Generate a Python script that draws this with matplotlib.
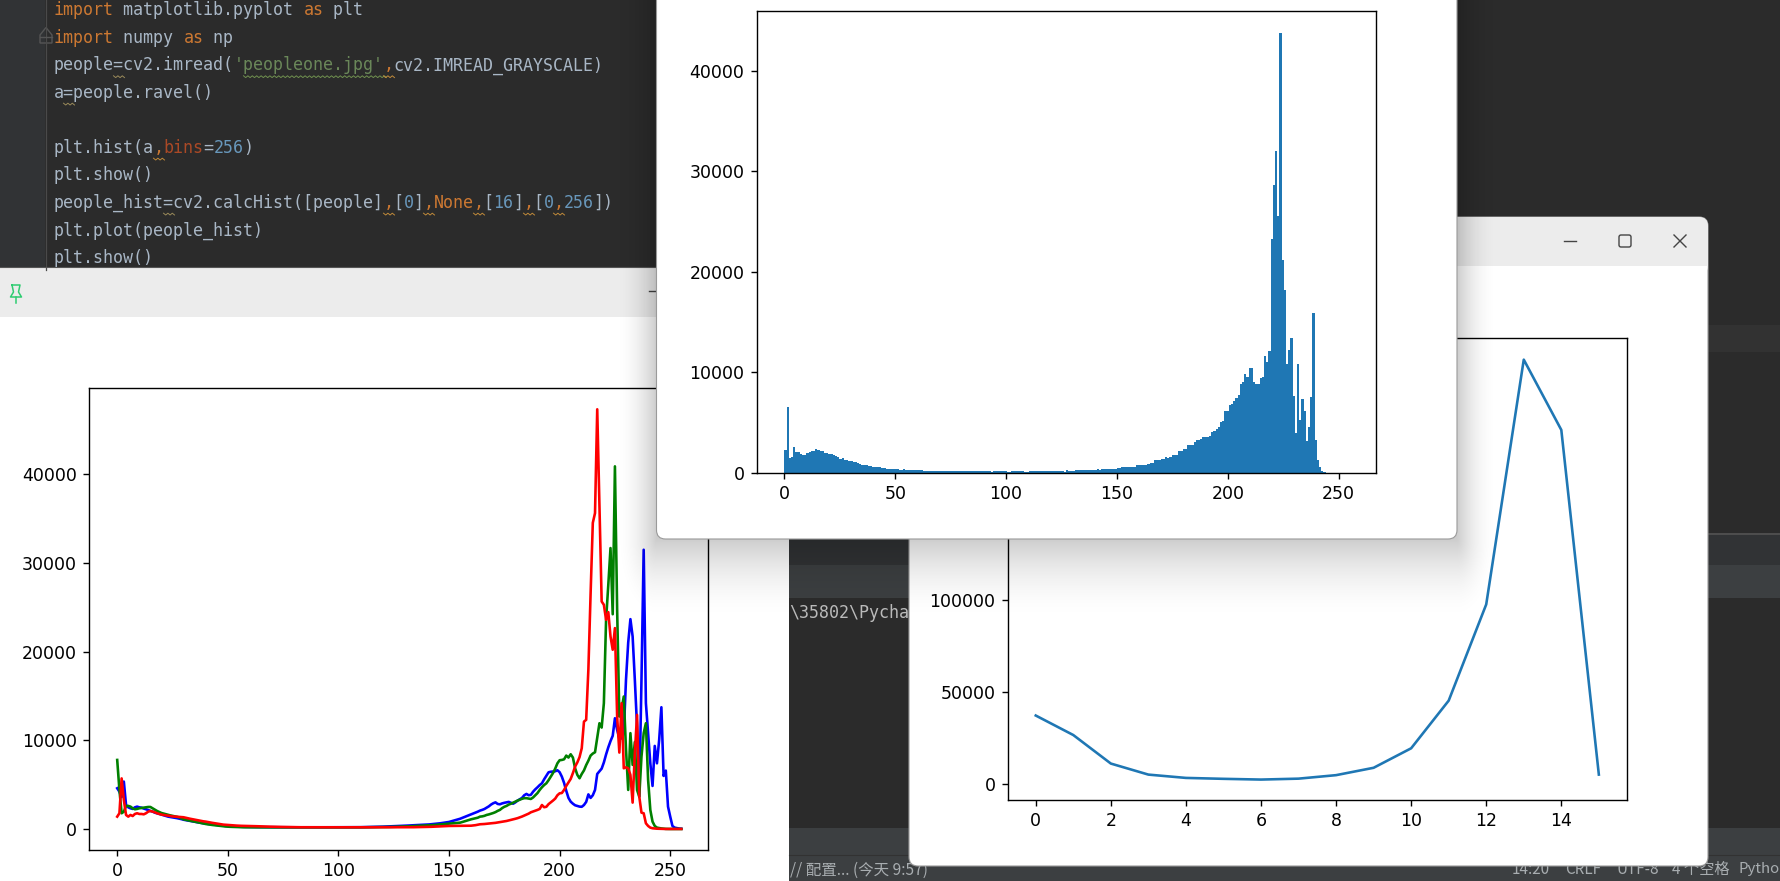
import numpy as np
import matplotlib
matplotlib.use("Agg")
import matplotlib.pyplot as plt
from matplotlib.patches import Rectangle, FancyBboxPatch, Polygon

W, H = 1781, 881

# ---------- chart data ----------
blue_counts = [
 4590,4200,3600,5340,2700,2440,2330,2260,2440,2520,
 2440,2400,2300,2220,2140,2030,1960,1840,1770,1690,
 1620,1540,1470,1390,1350,1320,1270,1220,1170,1110,
 1040,1000,950,900,860,820,770,720,680,640,
 600,570,540,510,480,450,420,390,360,340,
 320,300,285,270,260,250,240,235,230,225,
 220,218,215,212,210,208,205,203,200,198,
 196,195,194,193,192,191,190,190,190,190,
 190,188,190,190,188,190,190,190,188,190,
 190,190,188,190,190,190,188,190,190,190,
 190,190,188,190,192,192,195,195,197,198,
 200,205,210,215,220,225,230,235,240,250,
 260,270,280,290,300,310,320,335,350,360,
 370,380,395,410,420,430,445,460,470,480,
 490,510,535,560,580,600,640,680,720,760,
 790,860,930,1000,1080,1150,1250,1350,1450,1550,
 1650,1750,1850,1950,2070,2150,2250,2400,2550,2750,
 2900,3000,2820,2780,2880,2950,3000,3050,2950,2850,
 3000,3200,3350,3500,3800,3950,3800,3850,4200,4470,
 4700,4950,5150,5600,6000,6390,6450,6470,6500,6620,
 6400,5900,5200,4300,3500,3080,2850,2670,2600,2520,
 2500,2700,3050,3900,3500,3800,4400,6200,6500,6800,
 7500,8400,9200,9900,10500,12480,11170,10230,10200,10800,
 16800,21000,23650,21700,16800,11540,3650,16800,31470,14180,
 10800,7400,4850,9360,7400,10040,13720,5980,6580,2520,
 1390,340,150,100,50,30]

green_counts = [
 7780,4400,1770,1950,2600,2600,2520,2330,2220,2260,
 2330,2370,2400,2440,2480,2480,2330,2180,2030,1920,
 1800,1730,1650,1590,1530,1480,1430,1370,1300,1200,
 1090,1030,980,930,880,830,780,720,670,610,
 560,520,480,450,420,390,360,330,300,280,
 260,245,235,225,215,205,200,195,190,190,
 190,188,186,185,184,183,182,181,180,180,
 180,180,180,180,178,180,180,180,180,180,
 180,180,178,180,180,180,180,178,180,180,
 180,180,180,180,178,180,180,180,180,180,
 180,180,180,182,182,184,185,186,188,190,
 190,192,194,196,198,200,202,204,206,208,
 210,215,220,228,235,242,250,258,265,272,
 280,290,300,312,325,338,350,362,375,385,
 390,405,420,440,460,480,500,530,560,580,
 600,620,640,665,690,710,780,860,940,1020,
 1090,1150,1210,1270,1390,1420,1480,1580,1640,1720,
 1800,1900,2040,2150,2350,2500,2600,2750,2850,2970,
 3100,3200,3300,3400,3470,3470,3430,3380,3550,3800,
 4050,4400,4700,4950,5150,5500,5900,6300,6800,7400,
 7750,7780,7850,8270,8050,8420,8050,6840,6100,5715,
 6200,6600,7200,7700,8270,8500,8650,10300,11920,11430,
 14175,23575,27500,31660,24200,40870,24700,12670,13500,14930,
 9000,4400,10800,7220,9800,4400,3650,8160,10800,11920,
 5530,2140,830,340,150,100,60,30,10,0,
 0,0,0,0,0,0]

red_counts = [
 1390,1770,5700,3270,1580,1390,1580,1460,1690,1770,
 1690,1690,1650,1770,1950,2030,1960,1880,1770,1690,
 1620,1580,1540,1500,1460,1420,1400,1390,1360,1340,
 1320,1260,1210,1150,1100,1050,1000,950,900,860,
 830,780,730,690,650,610,570,530,490,470,
 450,430,410,395,380,365,355,350,345,340,
 340,330,320,310,300,290,280,270,265,260,
 260,250,240,235,230,225,220,215,210,205,
 200,198,196,195,194,193,192,191,190,190,
 190,190,188,190,190,190,188,190,190,190,
 190,188,190,190,190,188,190,190,190,188,
 190,190,190,188,190,190,190,188,190,190,
 190,188,190,190,188,190,190,188,190,190,
 190,192,194,197,200,205,209,213,218,222,
 225,235,245,258,270,280,292,305,318,330,
 340,342,344,346,348,350,354,358,362,366,
 370,400,430,480,530,540,560,590,620,640,
 660,690,730,770,800,850,900,960,1020,1090,
 1150,1220,1310,1400,1510,1620,1730,1880,1970,2070,
 2150,2260,2700,2450,2500,2800,3000,3200,3420,3800,
 4020,4050,4400,4850,5250,5640,6300,7030,7500,8100,
 9100,12100,12300,18000,26500,34500,35600,47300,36500,25640,
 25270,23575,24440,21700,20200,22640,12670,8610,14175,6840,
 6950,6840,6090,2970,8540,12860,3650,1840,1770,640,
 340,150,80,50,30,20,10,0,0,0,
 0,0,0,0,0,0]

gray_bin_counts = [
 2280,6520,1520,1620,2580,2085,2085,1920,1820,1820,
 1950,2120,2180,2180,2380,2320,2220,2150,2020,1990,
 1920,1890,1790,1690,1560,1420,1490,1320,1290,1220,
 1160,1130,1090,1030,930,800,800,790,730,660,
 600,600,590,560,530,460,400,400,400,400,
 400,400,330,330,360,300,300,300,300,300,
 300,260,300,200,200,200,200,200,200,200,
 200,200,200,200,200,200,200,200,200,200,
 200,200,200,200,200,200,200,200,200,200,
 200,200,200,200,130,200,200,200,200,200,
 200,100,100,170,200,200,200,200,200,130,
 130,200,200,200,200,200,200,200,200,200,
 200,200,200,200,200,200,200,70,300,240,
 200,200,300,300,300,300,300,300,300,300,
 300,300,360,300,360,400,400,400,400,400,
 400,460,540,560,560,560,580,560,560,620,
 800,800,800,800,800,900,950,1030,1290,1290,
 1290,1390,1390,1550,1480,1620,1790,1790,1790,2180,
 2180,2380,2380,2780,2780,2780,3050,3280,3280,3380,
 3570,3570,3570,3670,4070,4170,4370,4570,5060,5160,
 6150,6150,6750,6880,7150,7450,7750,8840,9040,9830,
 9530,10430,10430,9040,8840,8840,9430,9530,11620,11020,
 12100,23300,28700,32000,25600,43800,21150,18170,10820,12200,
 13400,7650,3970,10820,5260,7350,6150,3180,4570,7550,
 15890,3280,1290,600,200,100,0,0,0,0,
 0,0,0,0,0,0]

calc_hist_16 = [37100,26500,11000,5000,3200,2700,2300,2800,4700,8700,
                19300,45200,97500,230500,192300,5000]

hist_ticks_x = [0,50,100,150,200,250]
hist_ticks_y = [0,10000,20000,30000,40000]
line_ticks_x = [0,2,4,6,8,10,12,14]
line_ticks_y = [0,50000,100000,150000,200000]

code_lines = [
 (0,[("import","kw"),(" matplotlib.pyplot ","tx"),("as","kw"),(" plt","tx")]),
 (1,[("import","kw"),(" numpy ","tx"),("as","kw"),(" np","tx")]),
 (2,[("people=cv2.imread(","tx"),("'peopleone.jpg'","st"),(",","kw"),("cv2.IMREAD_GRAYSCALE)","tx")]),
 (3,[("a=people.ravel()","tx")]),
 (5,[("plt.hist(a","tx"),(",","kw"),("bins","ar"),("=","tx"),("256","nu"),(")","tx")]),
 (6,[("plt.show()","tx")]),
 (7,[("people_hist=cv2.calcHist([people]","tx"),(",","kw"),("[","tx"),("0","nu"),("]","tx"),(",","kw"),
     ("None","kw"),(",","kw"),("[","tx"),("16","nu"),("]","tx"),(",","kw"),("[","tx"),("0","nu"),(",","kw"),
     ("256","nu"),("])","tx")]),
 (8,[("plt.plot(people_hist)","tx")]),
 (9,[("plt.show()","tx")]),
]
line_y = [10.4,37.8,65.4,92.8,120.2,147.8,175.4,202.8,230.4,257.8]
colors = {"kw":"#cc7832","tx":"#a9b7c6","st":"#6a8759","nu":"#6897bb","ar":"#aa4926"}
squiggles = [(2,6,1,"#9a8a5a"),(2,19,13,"#6f8f4f"),(2,33,1,"#c08a3a"),(3,1,1,"#9a8a5a"),(5,10,1,"#c08a3a"),
             (7,11,1,"#9a8a5a"),(7,33,1,"#c08a3a"),(7,37,1,"#c08a3a"),(7,42,1,"#c08a3a"),(7,47,1,"#c08a3a"),(7,50,1,"#c08a3a")]

# ---------- figure and helpers ----------
plt.rcParams['font.family'] = ['DejaVu Sans']
fig = plt.figure(figsize=(W/100, H/100), dpi=100, facecolor="#2b2b2b")

def pixel_axes(z):
    a = fig.add_axes([0,0,1,1], zorder=z)
    a.set_xlim(0,W); a.set_ylim(H,0); a.axis("off")
    return a

def chart_axes(l,t,r,b,z):
    a = fig.add_axes([l/W, 1-b/H, (r-l)/W, (b-t)/H], zorder=z)
    a.patch.set_visible(False)
    for s in a.spines.values():
        s.set_linewidth(1.0)
    a.tick_params(labelsize=12.5, length=4.4, width=1.0, pad=4.4, color="black")
    return a

def window(a, x0, y0, x1, y1, z, r=9):
    a.add_patch(FancyBboxPatch((x0+r,y0+r), x1-x0-2*r, y1-y0-2*r,
                boxstyle=f"round,pad={r},rounding_size={r}", fc="white", ec="#9a9a9a", lw=0.8, zorder=z))

# ---------- IDE background ----------
bg = pixel_axes(0)
bg.add_patch(Rectangle((0,0),W,H,fc="#2b2b2b",ec="none"))
bg.add_patch(Rectangle((0,0),45.5,270,fc="#313335",ec="none"))
bg.plot([45.7,45.7],[0,270],color="#4a4a4a",lw=0.9)
bg.add_patch(Rectangle((789,565),W-789,33,fc="#3c3f41",ec="none"))
bg.add_patch(Rectangle((789,535),W-789,30,fc="#313335",ec="none"))
bg.plot([789,W],[533.5,533.5],color="#555555",lw=1.2)
bg.add_patch(Rectangle((789,827.5),W-789,H-827.5,fc="#3c3f41",ec="none"))
bg.plot([789,W],[855,855],color="#323232",lw=0.8)
bg.add_patch(Rectangle((1457,324.5),W-1457,27.5,fc="#323232",ec="none"))
bg.add_patch(Polygon([[40,35],[46,27.5],[52,35],[52,43],[40,43]],closed=True,fc="none",ec="#555555",lw=1.0))
bg.plot([40,52],[37,37],color="#555555",lw=1.0)

for ln, toks in code_lines:
    col = 0
    for s, kind in toks:
        bg.text(53.5+col*10, line_y[ln], s, family="DejaVu Sans Mono", fontsize=12, color=colors[kind],
                va="center", ha="left")
        col += len(s)
for ln, c0, n, c in squiggles:
    n_pts = int(n*10/2)+1
    xs = [53.5+c0*10+k*2.2 for k in range(n_pts)]
    ys = [line_y[ln]+11+(1.2 if k%2 else -0.6) for k in range(n_pts)]
    bg.plot(xs, ys, color=c, lw=0.7)

bg.text(789, 613, "\\35802\\Pycha", family="DejaVu Sans Mono", fontsize=12, color="#bbbbbb", va="center")
stat = ['Noto Sans CJK SC','DejaVu Sans']
bg.text(790, 870, "// 配置... (今天 9:57)", family=stat, fontsize=11.2, color="#a8adb0", va="center")
for x, s in [(1512,"14:20"),(1565,"CRLF"),(1617,"UTF-8"),(1672,"4 个空格")]:
    bg.text(x, 869, s, family=stat, fontsize=11, color="#a8adb0", va="center")
bg.text(1780, 869, "Pytho", family=stat, fontsize=10.8, color="#a8adb0", va="center", ha="right")

# left window
bg.add_patch(Rectangle((0,267),789,H-267,fc="white",ec="none"))
bg.add_patch(Rectangle((0,267),789,50,fc="#ececec",ec="none"))
bg.plot([0,789],[267,267],color="#555555",lw=0.8)
pin = "#2ecc71"
bg.plot([12,20,18.5,21.5,10.5,13.5,12],[285,285,292,297,297,292,285],color=pin,lw=1.1)
bg.plot([16,16],[297,303],color=pin,lw=1.1)
bg.plot([649,662],[291,291],color="#444444",lw=1.0)

# line window
window(bg, 909, 217, 1708, 866, 3)
tb = FancyBboxPatch((918,226),781,40,boxstyle="round,pad=9,rounding_size=9",fc="#ececec",ec="none",zorder=3.1)
bg.add_patch(tb)
bg.add_patch(Rectangle((909.5,240),798,26,fc="#ececec",ec="none",zorder=3.15))
bg.add_patch(Rectangle((909.5,266),798,30,fc="white",ec="none",zorder=3.2))
bg.plot([1564,1576],[240.7,240.7],color="#444444",lw=1.0,zorder=4)
bg.add_patch(FancyBboxPatch((1621,237),8,8,boxstyle="round,pad=2,rounding_size=2",fc="none",ec="#444444",lw=1.0,zorder=4))
bg.plot([1674,1686],[235,247],color="#444444",lw=1.0,zorder=4)
bg.plot([1674,1686],[247,235],color="#444444",lw=1.0,zorder=4)

# ---------- RGB line chart ----------
ax1 = chart_axes(89,388,708.5,850,1)
for counts, c in [(blue_counts,'b'),(green_counts,'g'),(red_counts,'r')]:
    ax1.plot(range(len(counts)), counts, color=c, lw=1.875)
ax1.set_xlim(-12.75,267.3); ax1.set_ylim(-2370,49700)
ax1.set_xticks(hist_ticks_x); ax1.set_yticks(hist_ticks_y)

# ---------- calcHist line chart ----------
ax3 = chart_axes(1007.6,338,1627,800,1)
ax3.plot(range(len(calc_hist_16)), calc_hist_16, color="#1f77b4", lw=1.875)
ax3.set_xlim(-0.75,15.75); ax3.set_ylim(-8803,242257)
ax3.set_xticks(line_ticks_x); ax3.set_yticks(line_ticks_y)

# ---------- top window with its shadow ----------
top = pixel_axes(2)
px = np.arange(W)+0.5; py = np.arange(H)+0.5
gx, gy = np.meshgrid(px,py)
dx = np.maximum(np.maximum(656.5-gx, gx-1457),0)/42.0
dy = np.maximum(gy-539,0)/85.0
d = np.clip(np.sqrt(dx**2+dy**2),0,1)
alpha = 0.2*(1-d)**2
rgba = np.zeros((H,W,4)); rgba[...,3] = alpha
top.imshow(rgba, extent=(0,W,H,0), interpolation="nearest", aspect="auto", zorder=1)
top.set_xlim(0,W); top.set_ylim(H,0)
window(top, 656.5, -20, 1457, 539, 2)

ax2 = chart_axes(756.6,11.3,1376,473,3)
edges = np.linspace(0,254,len(gray_bin_counts)+1)
ax2.hist((edges[:-1]+edges[1:])/2, bins=edges, weights=gray_bin_counts, color="#1f77b4")
ax2.set_xlim(-12.5,266.8); ax2.set_ylim(0,45940)
ax2.set_xticks(hist_ticks_x); ax2.set_yticks(hist_ticks_y)

fig.savefig("out.png", dpi=100, facecolor=fig.get_facecolor())
